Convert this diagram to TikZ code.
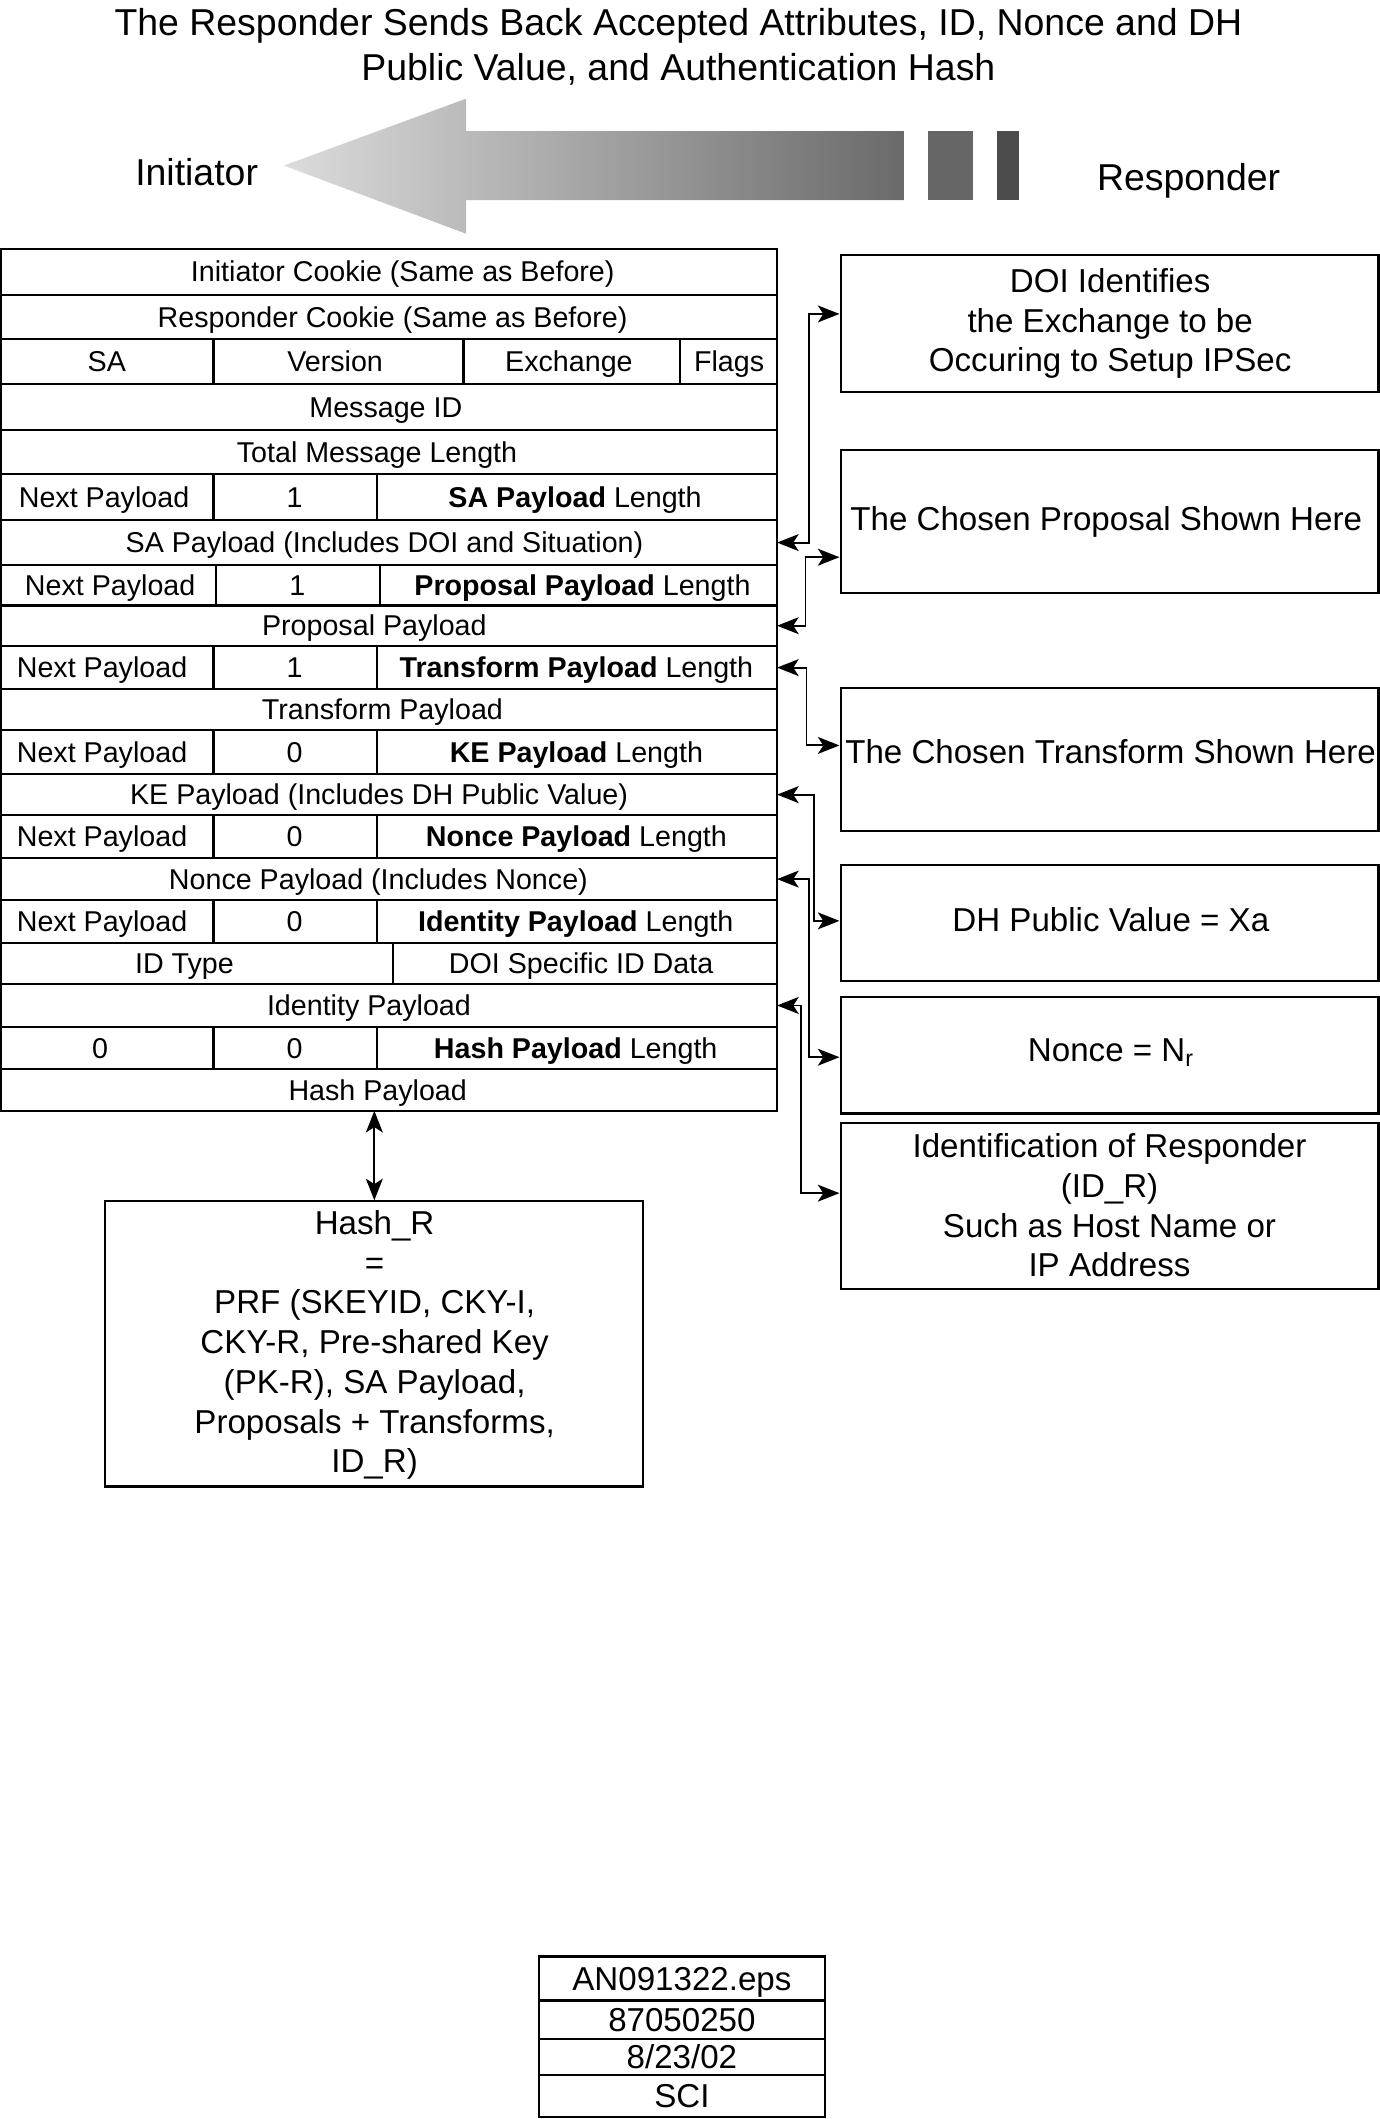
\documentclass[tikz,border=0pt]{standalone}
\usepackage{fontspec}
\setmainfont{Liberation Sans}
\usetikzlibrary{arrows.meta,calc}
\definecolor{tipgray}{HTML}{DCDCDC}
\definecolor{endgray}{HTML}{6A6A6A}
\definecolor{blockA}{HTML}{666666}
\definecolor{blockB}{HTML}{4B4B4B}
\begin{document}
\begin{tikzpicture}[x=1pt,y=-1pt,
  tabrule/.style={line width=1.6pt},
  tbl/.style={draw, line width=1.6pt, inner sep=0pt, outer sep=0pt},
  celltext/.style={font=\fontsize{21.2}{25.4}\selectfont, inner sep=0pt, text height=15.2pt, text depth=0pt},
  boxtext/.style={font=\fontsize{24.5}{29.4}\selectfont, inner sep=0pt, text height=17.5pt, text depth=0pt},
  boxml/.style={font=\fontsize{24.5}{29.4}\selectfont, inner sep=0pt, align=center, anchor=north},
  labeltext/.style={font=\fontsize{27.7}{33.2}\selectfont, inner sep=0pt, text height=19.8pt, text depth=0pt},
  infobox/.style={draw, line width=1.6pt, inner sep=0pt, minimum width=398pt},
  metacell/.style={draw, line width=1.6pt, inner sep=0pt, minimum width=211.6pt, font=\fontsize{24.5}{29.4}\selectfont, text height=17.5pt, text depth=0pt},
  conn/.style={line width=1.4pt, {Stealth[length=16pt,width=12.5pt,inset=4pt]}-{Stealth[length=16pt,width=12.5pt,inset=4pt]}},
]
\useasboundingbox (0,0) rectangle (1021,1568);

% title
\node[font=\fontsize{27.7}{33.2}\selectfont, align=center, anchor=north, inner sep=0pt] (title) at (502,6)
  {The Responder Sends Back Accepted Attributes, ID, Nonce and DH\\Public Value, and Authentication Hash};

% big arrow
\shade[left color=tipgray, right color=endgray] (210,122.5) -- (345,73) -- (345,97) -- (669,97) -- (669,148) -- (345,148) -- (345,173) -- cycle;
\fill[blockA] (687,97) rectangle (720,148);
\fill[blockB] (738,97) rectangle (754,148);
\node[labeltext] (ini) at (145.5,127) {Initiator};
\node[labeltext] (resp) at (879.5,131) {Responder};

% table
\node[tbl, minimum width=574pt, minimum height=638pt] (table) at (288,503) {};
\foreach \y in {218,251,284,318,351,385,418,448,478,510,540,573,603,635,666,698,728,760,791}
  \draw[tabrule] (1,\y) -- (575,\y);
\draw[tabrule] (158,251)--(158,284) (343,251)--(343,284) (503,251)--(503,284)
  (158,351)--(158,385) (279,351)--(279,385)
  (160,418)--(160,448) (281,418)--(281,448)
  (158,478)--(158,510) (279,478)--(279,510)
  (158,540)--(158,573) (279,540)--(279,573)
  (158,603)--(158,635) (279,603)--(279,635)
  (158,666)--(158,698) (279,666)--(279,698)
  (291,698)--(291,728)
  (158,760)--(158,791) (279,760)--(279,791);

\node[celltext] (t1) at (298,201) {Initiator Cookie (Same as Before)};
\node[celltext] (t2) at (290.5,234.5) {Responder Cookie (Same as Before)};
\node[celltext] (t3a) at (79,267.5) {SA};
\node[celltext] (t3b) at (248,267.5) {Version};
\node[celltext] (t3c) at (421,267.5) {Exchange};
\node[celltext] (t3d) at (539.5,267.5) {Flags};
\node[celltext] (t4) at (285.5,301) {Message ID};
\node[celltext] (t5) at (279,334.5) {Total Message Length};
\node[celltext] (t6a) at (77,368) {Next Payload};
\node[celltext] (t6b) at (218,368) {1};
\node[celltext] (t6c) at (425.5,368) {\textbf{SA Payload} Length};
\node[celltext] (t7) at (284.5,401.5) {SA Payload (Includes DOI and Situation)};
\node[celltext] (t8a) at (81.5,433) {Next Payload};
\node[celltext] (t8b) at (220,433) {1};
\node[celltext] (t8c) at (431,433) {\textbf{Proposal Payload} Length};
\node[celltext] (t9) at (277,463) {Proposal Payload};
\node[celltext] (t10a) at (75.5,494) {Next Payload};
\node[celltext] (t10b) at (218,494) {1};
\node[celltext] (t10c) at (426.5,494) {\textbf{Transform Payload} Length};
\node[celltext] (t11) at (283,525) {Transform Payload};
\node[celltext] (t12a) at (75.5,556.5) {Next Payload};
\node[celltext] (t12b) at (218,556.5) {0};
\node[celltext] (t12c) at (426.5,556.5) {\textbf{KE Payload} Length};
\node[celltext] (t13) at (280.5,588) {KE Payload (Includes DH Public Value)};
\node[celltext] (t14a) at (75.5,619) {Next Payload};
\node[celltext] (t14b) at (218,619) {0};
\node[celltext] (t14c) at (426.5,619) {\textbf{Nonce Payload} Length};
\node[celltext] (t15) at (280,650.5) {Nonce Payload (Includes Nonce)};
\node[celltext] (t16a) at (75.5,682) {Next Payload};
\node[celltext] (t16b) at (218,682) {0};
\node[celltext] (t16c) at (426,682) {\textbf{Identity Payload} Length};
\node[celltext] (t17a) at (136.5,713) {ID Type};
\node[celltext] (t17b) at (430,713) {DOI Specific ID Data};
\node[celltext] (t18) at (273,744) {Identity Payload};
\node[celltext] (t19a) at (74,775.5) {0};
\node[celltext] (t19b) at (218,775.5) {0};
\node[celltext] (t19c) at (426,775.5) {\textbf{Hash Payload} Length};
\node[celltext] (t20) at (279.5,806.5) {Hash Payload};

% right boxes
\node[infobox, minimum height=101pt] (b1) at (821,239.5) {};
\node[boxml] (b1t) at (821.5,198.4) {DOI Identifies\\the Exchange to be\\Occuring to Setup IPSec};
\node[infobox, minimum height=106pt] (b2) at (821,386) {};
\node[boxtext] (b2t) at (818.6,384) {The Chosen Proposal Shown Here};
\node[infobox, minimum height=106pt] (b3) at (821,562) {};
\node[boxtext] (b3t) at (821.8,556.5) {The Chosen Transform Shown Here};
\node[infobox, minimum height=86pt] (b4) at (821,683) {};
\node[boxtext] (b4t) at (822,680.7) {DH Public Value = Xa};
\node[infobox, minimum height=86pt] (b5) at (821,781) {};
\node[boxtext] (b5t) at (822,776.5) {Nonce = N\textsubscript{r}};
\node[infobox, minimum height=123pt] (b6) at (821,892.5) {};
\node[boxml] (b6t) at (821,838.6) {Identification of Responder\\(ID\_R)\\Such as Host Name or\\IP Address};

% hash box
\node[infobox, minimum height=211pt] (hb) at (277,994.5) {};
\node[boxml] (hbt) at (277.2,895.5) {Hash\_R\\=\\PRF (SKEYID, CKY-I,\\CKY-R, Pre-shared Key\\(PK-R), SA Payload,\\Proposals + Transforms,\\ID\_R)};

% file info box
\node[metacell, minimum height=32.5pt] (m1) at (504.6,1464) {AN091322.eps};
\node[metacell, minimum height=28.4pt] (m2) at (504.6,1494.4) {87050250};
\node[metacell, minimum height=26.6pt] (m3) at (504.6,1521.9) {8/23/02};
\node[metacell, minimum height=31pt] (m4) at (504.6,1551) {SCI};

% connectors
\draw[conn] (table.east |- t7) -- ++(23.3,0) |- ($(b1.west)+(0,-7.2)$);
\draw[conn] (table.east |- t9) -- ++(21,0) |- ($(b2.west)+(0,26.3)$);
\draw[conn] (table.east |- t10c) -- ++(21.8,0) |- ($(b3.west)+(0,-10.4)$);
\draw[conn] (table.east |- t13) -- ++(27.4,0) |- ($(b4.west)+(0,-1.6)$);
\draw[conn] (table.east |- t15) -- ++(23.3,0) |- ($(b5.west)+(0,1.3)$);
\draw[conn] (table.east |- t18) -- ++(17.4,0) |- ($(b6.west)+(0,-9.6)$);
\draw[conn] (hb.north |- table.south) -- (hb.north);
\end{tikzpicture}
\end{document}
